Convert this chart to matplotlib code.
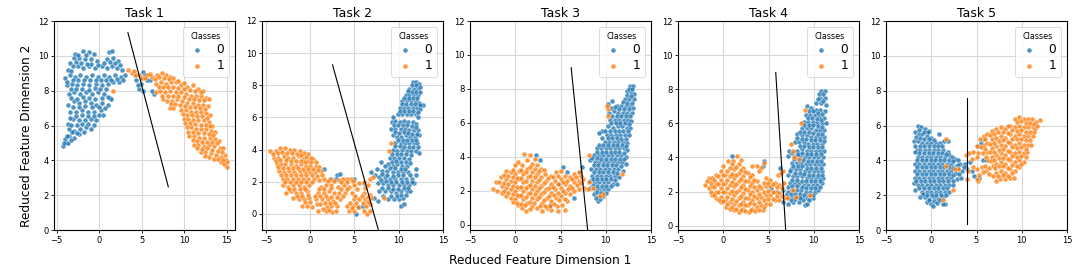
import matplotlib
matplotlib.use("Agg")
import matplotlib.pyplot as plt

# Points, (x, y) for each task and class
task1_class0 = [(-2.8,10.1),(-1.9,10.3),(-1.2,10.2),(-0.6,10.1),(1.2,10.2),(1.5,10.3),(-3.4,9.6),(-3,9.9),(-2.3,9.9),(-1.6,9.8),(-0.9,9.8),(-0.2,9.7),(0.9,9.8),(1.7,9.9),(2.2,9.7),
    (-3.7,9.2),(-3.1,9.4),(-2.5,9.4),(-1.9,9.3),(-1.2,9.4),(-0.5,9.3),(0.3,9.4),(0.9,9.3),(1.5,9.4),(2.1,9.3),(2.7,9.2),(-4,8.7),(-3.4,8.9),(-2.8,8.8),(-2.2,8.9),(-1.5,8.8),(-0.8,8.9),(-0.1,8.8),(0.6,8.9),(1.2,8.8),(1.9,8.9),(2.6,8.8),(3,8.9),(4.2,8.9),(5.2,9.1),(5.4,8.9),
    (-3.8,8.3),(-3.2,8.4),(-2.6,8.3),(-1.9,8.4),(-1.2,8.3),(-0.4,8.4),(0.3,8.3),(1,8.4),(1.7,8.5),(2.4,8.5),(4.4,8.6),(4.9,8.4),(6,8.6),(-3.5,7.8),(-2.9,7.9),(-2.2,7.8),(-1.5,7.9),(-0.8,7.8),(-0.1,7.9),(0.6,7.8),(1.3,7.6),(4.7,8.1),(5.2,8),(6.5,7.8),(6.2,8),
    (-3.6,7.2),(-3,7.4),(-2.4,7.3),(-1.7,7.4),(-1,7.3),(-0.3,7.2),(0.4,7.3),(1,7.2),(1.4,7.5),(-3.4,6.8),(-2.7,6.8),(-2,6.9),(-1.3,6.8),(-0.6,6.8),(0.2,6.9),(0.5,6.6),(-3.7,6.1),(-3.1,6.4),(-2.4,6.3),(-1.7,6.3),(-1,6.4),(-0.3,6.3),
    (-3.5,5.8),(-2.9,5.7),(-2.2,5.8),(-1.5,5.9),(-1,5.8),(-3.5,5.4),(-3,5.3),(-2.4,5.5),(-1.8,5.6),(-3.9,5),(-4.2,4.8),(-3.6,5),(-4,5.2),
    (-2.5,10.05),(-1.55,10.02),(-0.95,9.55),(-2.75,9.62),(-3.35,9.15),(-2.15,9.6),(-1.45,9.55),(-0.15,9.45),(0.55,9.6),(1.25,9.62),(1.85,9.6),(2.45,9.45),(-3.75,8.5),(-3.05,8.62),(-2.45,8.6),(-1.75,8.6),(-1.05,8.62),(-0.35,8.6),(0.25,8.62),(0.85,8.6),(1.45,8.62),(2.15,8.65),(2.85,8.6),
    (-3.35,8.12),(-2.7,8.1),(-1.95,8.12),(-1.15,8.05),(-0.5,8.15),(0.15,8.1),(0.85,8.12),(-3.25,7.6),(-2.55,7.55),(-1.85,7.62),(-1.2,7.6),(-0.45,7.55),(0.35,7.6),(1.05,7.65),(-3.1,7.05),(-2.35,7.05),(-1.6,7.1),(-0.85,7.05),(-0.05,7.05),(0.75,7),(-3.45,6.45),(-2.75,6.55),(-2,6.6),(-1.35,6.55),(-0.6,6.55),(-0.05,6.6),(-3.25,6.05),(-2.6,6.05),(-1.95,6.1),(-1.25,6.1),(-0.6,6.05),(-3.2,5.6),(-2.6,5.55),(-3.3,5.15),(-3.8,5.4),(-4.1,5),(4.55,8.35),(5.05,8.75),(5.7,8.6)]
task1_class1 = [(3.4,9.2),(3.9,9),(4.4,8.9),(5,8.7),(5.6,8.9),(6.2,8.8),(6.8,8.9),(7.4,9),(7.9,8.9),(8.4,8.8),(6.7,8.4),(7.3,8.5),(7.9,8.4),(8.5,8.5),(9,8.5),(9.6,8.3),(10.4,8.2),(11,8.3),(11.7,8.1),(12.2,8),(6.7,7.9),(7.2,8),(7.8,7.9),(8.4,8),(9,7.9),(9.6,7.9),(10.2,7.8),(10.8,7.7),(11.4,7.7),(12,7.7),(12.6,7.6),(12.9,7.5),
    (7.5,7.5),(8,7.4),(8.6,7.4),(9.2,7.5),(9.8,7.4),(10.4,7.3),(11,7.3),(11.6,7.2),(12.2,7.2),(12.8,7.1),(8.3,7),(8.7,7),(9.6,6.9),(10.2,6.9),(10.8,6.8),(11.4,6.8),(12,6.8),(12.6,6.7),(13,6.6),(10,6.4),(10.5,6.4),(11.1,6.3),(11.7,6.3),(12.3,6.3),(12.9,6.2),(13.3,6),(10.3,5.9),(10.8,5.9),(11.4,5.8),(12,5.8),(12.6,5.8),(13.2,5.7),(13.7,5.6),
    (10.6,5.4),(11.2,5.4),(11.8,5.3),(12.4,5.3),(13,5.3),(13.6,5.2),(14.1,5.1),(11.2,4.9),(11.7,4.9),(12.3,4.8),(12.9,4.9),(13.5,4.8),(14.2,4.7),(14.6,4.7),(12,4.5),(12.5,4.5),(13.2,4.4),(13.8,4.3),(14.4,4.2),(14.8,4.3),(13.5,4.1),(14.3,3.9),(14.9,4),(15.1,3.9),(15,3.6),(14.7,3.8),(1.6,8),
    (4.15,9.12),(4.75,8.92),(5.35,8.72),(5.95,8.98),(6.55,8.68),(7.1,8.78),(7.65,8.72),(8.2,8.65),(8.75,8.72),(9.3,8.58),(9.95,8.42),(7,8.2),(7.55,8.2),(8.15,8.22),(8.75,8.2),(9.3,8.15),(9.95,8.1),(10.65,8.02),(11.25,8),(11.95,7.92),(7.45,7.72),(8.1,7.68),(8.7,7.7),(9.35,7.7),(9.95,7.65),(10.55,7.55),(11.15,7.52),(11.75,7.48),(12.35,7.45),(8.45,7.22),(8.95,7.25),(9.5,7.2),(10.1,7.12),(10.7,7.08),(11.3,7.05),(11.9,7),(12.5,6.95),
    (9.85,6.65),(10.35,6.62),(10.95,6.58),(11.55,6.55),(12.15,6.55),(12.75,6.45),(10.15,6.15),(10.75,6.12),(11.35,6.08),(11.95,6.05),(12.55,6.02),(13.1,5.95),(10.5,5.65),(11.1,5.62),(11.65,5.58),(12.3,5.55),(12.9,5.52),(13.45,5.45),(11,5.15),(11.5,5.12),(12.1,5.08),(12.65,5.08),(13.25,5.05),(13.85,5),(11.55,4.68),(12.15,4.65),(12.7,4.68),(13.3,4.62),(13.95,4.55),(14.5,4.45),(12.9,4.2),(14,4.1),(14.6,4.02),(12.5,4.25)]

task2_class0 = [(11.6,8.2),(12,8.2),(12.3,8.1),(11.2,7.8),(11.7,7.8),(12.2,7.8),(12.4,7.9),(10.8,7.4),(11.2,7.4),(11.7,7.4),(12.2,7.4),(10.4,7),(10.9,7.1),(11.4,7),(11.9,7),(12.3,6.9),(12.7,6.8),(10.1,6.6),(10.6,6.6),(11.1,6.6),(11.6,6.6),(12.1,6.6),(12.4,6.5),(9.9,6.2),(10.4,6.2),(10.9,6.2),(11.4,6.2),(11.9,6.2),(12.2,6),(9.2,5.7),(9.6,5.8),(10.1,5.7),(10.6,5.8),(11.1,5.7),(11.6,5.7),(12,5.6),
    (9.1,5.3),(9.6,5.3),(10.2,5.3),(10.7,5.3),(11.2,5.2),(11.7,5.2),(12.2,5.2),(9.3,4.9),(9.8,4.8),(10.3,4.8),(10.8,4.9),(11.3,4.8),(11.8,4.8),(12.3,4.9),(9.6,4.4),(10.2,4.4),(10.7,4.4),(11.2,4.4),(11.7,4.4),(12.1,4.4),(9.3,4),(9.8,3.9),(10.4,4),(10.9,3.9),(11.4,3.9),(11.9,3.9),(12.3,3.8),(9,3.5),(9.5,3.5),(10,3.5),(10.6,3.5),(11.2,3.4),(8.8,3.1),(9.3,3),(9.8,3.1),(10.4,3),(10.9,3),
    (8,3.2),(7.5,2.8),(8.1,2.7),(8.7,2.7),(9.3,2.6),(9.9,2.6),(10.5,2.6),(11,2.6),(12,2.8),(11.9,2.4),(6.9,2.6),(7.3,2.4),(7.8,2.3),(8.4,2.3),(9,2.2),(9.6,2.2),(10.2,2.2),(10.8,2.2),(11.5,2.2),(7.6,1.9),(8.2,1.9),(8.8,1.8),(9.4,1.8),(10,1.8),(10.6,1.8),(11.2,1.8),(11.7,1.9),(7.8,1.4),(8.5,1.4),(9.1,1.4),(9.7,1.3),(10.3,1.4),(10.9,1.4),(11.3,1.4),
    (7.2,1),(7.7,0.8),(8.8,0.9),(9.5,0.9),(10,0.9),(10.5,1),(10.2,0.5),(10.6,0.6),(5.2,0),(5.5,0.4),(6,0.5),(3,2.4),(2.9,2.2),(3.4,2.5),(2.3,2.2),(1.5,2.8),(5,2.2),(6.1,1.9),
    (11.45,8),(11.95,8),(11,7.62),(11.45,7.58),(11.95,7.6),(12.35,7.6),(10.65,7.22),(11.15,7.2),(11.65,7.2),(12.1,7.18),(10.35,6.82),(10.85,6.85),(11.35,6.82),(11.85,6.82),(12.4,6.75),(10.15,6.4),(10.65,6.4),(11.2,6.42),(11.65,6.4),(12.15,6.35),(9.35,6.02)
    ,(9.45,5.52),(9.9,5.52),(10.45,5.55),(10.95,5.5),(11.45,5.48),(11.95,5.42),(9.55,5.08),(10.05,5.05),(10.55,5.08),(11.05,5.02),(11.55,5),(12.05,5),(9.9,4.62),(10.45,4.62),(10.95,4.62),(11.45,4.6),(11.95,4.58),(9.55,4.2),(10.1,4.2),(10.65,4.18),(11.15,4.15),(11.65,4.15),(12.2,4.15),(9.25,3.72),(9.75,3.72),(10.3,3.72),(10.85,3.7),(11.4,3.68),(9.2,3.25),(9.7,3.3),(10.25,3.25),(10.8,3.22),(11.25,3.15),
    (8.45,2.95),(9.05,2.85),(9.6,2.85),(10.2,2.82),(10.75,2.8),(8.1,2.48),(8.7,2.45),(9.3,2.38),(9.9,2.4),(10.5,2.4),(11.25,2.42),(8,2.08),(8.55,2.05),(9.15,2),(9.7,2),(10.35,2),(10.95,2),(11.45,1.98),(8.15,1.62),(8.8,1.6),(9.35,1.58),(9.95,1.58),(10.55,1.6),(11.1,1.6),(9.15,1.12),(9.75,1.1),(10.25,1.15),(10.8,1.15),(8.2,1.1)]
task2_class1 = [(-4.5,3.9),(-3.9,3.9),(-3.4,4.1),(-2.9,4.1),(-2.3,4),(-1.8,4),(-1.2,3.9),(-0.7,3.8),(-0.2,3.7),(-4.1,3.5),(-3.6,3.5),(-3,3.6),(-2.5,3.5),(-1.9,3.5),(-1.3,3.6),(-0.8,3.4),(-0.2,3.3),(0.3,3.4),(-3.8,3.1),(-3.3,3.1),(-2.8,3.1),(-2.2,3.1),(-1.6,3),(-1,3.1),(-0.5,3),(0,3),(0.6,3),(1,2.9),
    (-3.5,2.7),(-3,2.6),(-2.4,2.7),(-1.8,2.6),(-1.2,2.7),(-0.6,2.6),(0,2.6),(0.5,2.6),(1.2,2.7),(-3.1,2.2),(-2.6,2.2),(-2,2.2),(-1.4,2.2),(-0.8,2.2),(-0.2,2.2),(0.4,2.2),(1,2.1),(1.6,2.2),(2.2,2.2),(3.2,2.1),(4.1,2.2),(4.6,2.2),(3.7,2.2),
    (-3.1,1.8),(-2.5,1.7),(-1.9,1.8),(-1.3,1.8),(-0.7,1.7),(-0.1,1.8),(1.2,1.7),(1.8,1.8),(2.4,1.8),(3.1,1.7),(3.8,1.8),(4.4,1.7),(5,1.8),(5.5,1.9),(6.1,2),(6.7,2.2),(6.5,1.8),(-2.7,1.3),(-2.2,1.4),(-1.6,1.3),(-1,1.3),(-0.4,1.4),(0.9,1.3),(1.5,1.3),(2.1,1.4),(2.7,1.3),(3.3,1.3),(3.9,1.3),(4.7,1.3),(6.1,1.3),(6.8,1.2),
    (-1.9,1),(-1.3,0.9),(-0.7,0.9),(-0.1,1),(0.7,0.9),(1.3,0.9),(2,0.9),(2.6,0.8),(3.4,0.9),(4.9,0.9),(5.5,0.9),(6.2,0.9),(6.9,1),(-0.9,0.5),(-0.4,0.5),(0.2,0.4),(0.8,0.6),(1.9,0.4),(2.4,0.5),(3,0.5),(4.2,0.5),(4.8,0.5),(5.4,0.4),(6.3,0.5),(6.8,0.6),(0.9,0.2),(1.8,0.2),(2.5,0.1),(2.9,0.2),(4.4,0.2),(4.9,0.2),(6.4,0),(6.8,0.2),(9.1,4.4),(8.9,3.9),(8.3,1),(7.1,2.3),
    (-4.2,3.72),(-3.65,3.82),(-3.15,3.85),(-2.6,3.78),(-2.05,3.78),(-1.55,3.75),(-1,3.68),(-0.45,3.55),(0.05,3.5),(-3.9,3.3),(-3.4,3.35),(-2.75,3.35),(-2.2,3.32),(-1.65,3.28),(-1.1,3.3),(-0.55,3.22),(0.05,3.22),(0.6,3.25),(-3.65,2.9),(-3.1,2.88),(-2.55,2.88),(-1.95,2.85),(-1.35,2.88),(-0.8,2.82),(-0.25,2.8),(0.3,2.8),(0.85,2.75),
    (-3.25,2.45),(-2.7,2.42),(-2.15,2.42),(-1.6,2.4),(-1.05,2.45),(-0.45,2.42),(0.15,2.4),(0.75,2.38),(1.35,2.42),(-2.85,2),(-2.25,1.98),(-1.65,2),(-1.05,1.98),(-0.45,1.98),(0.15,2),(2,2.02),(2.7,2.05),(3.45,1.98),(4.2,2),(4.85,2.02),(-2.4,1.55),(-1.8,1.58),(-1.15,1.55),(-0.55,1.52),(0.95,1.52),(1.6,1.55),(2.4,1.6),(3.5,1.55),(4.2,1.52),(5.3,1.55),(6.2,1.6),
    (-1.55,1.12),(-0.95,1.12),(-0.25,1.18),(0.5,1.12),(1.1,1.12),(1.8,1.12),(2.4,1.08),(3.05,1.05),(3.65,1.12),(5.1,1.12),(5.85,1.1),(6.5,1.08),(-0.6,0.72),(0,0.72),(1.05,0.62),(1.65,0.65),(2.2,0.65),(2.8,0.68),(4.5,0.7),(5.15,0.65),(6,0.7),(6.55,0.72),(1.45,0.3),(2.15,0.22),(4.7,0.38),(6.1,0.2)]

task3_class0 = [(12.7,8.2),(13,8.2),(12.4,7.9),(12.8,7.8),(13.1,7.7),(12.1,7.4),(12.6,7.4),(13.1,7.4),(11.7,7),(12.2,7),(12.7,7),(13,6.9),(10.3,7.1),(10.7,7.3),(11.2,7),(10.4,6.6),(10.9,6.7),(11.4,6.6),(11.9,6.6),(12.4,6.6),(12.9,6.6),(10.5,6.2),(11,6.2),(11.5,6.2),(12,6.2),(12.5,6.2),(12.8,6.1),(10.3,5.8),(10.8,5.7),(11.3,5.8),(11.8,5.8),(12.3,5.7),(12.7,5.7),
    (9.6,5.5),(9.2,5.4),(10.1,5.3),(10.6,5.3),(11.1,5.3),(11.6,5.3),(12.1,5.3),(12.6,5.3),(9.9,4.9),(10.4,4.9),(10.9,4.9),(11.4,4.9),(11.9,4.9),(12.4,4.8),(9,4.5),(9.5,4.5),(10,4.5),(10.5,4.5),(11,4.5),(11.5,4.5),(12,4.5),(12.4,4.4),(8.7,4.1),(9.2,4.1),(9.7,4.1),(10.2,4.1),(10.7,4.1),(11.2,4.1),(11.7,4.1),(12.2,4),
    (8.3,3.8),(8.8,3.7),(9.3,3.7),(9.8,3.7),(10.3,3.7),(10.8,3.7),(11.3,3.7),(11.8,3.7),(12.2,3.6),(8.4,3.3),(8.9,3.3),(9.4,3.3),(9.9,3.3),(10.4,3.3),(10.9,3.3),(11.4,3.3),(11.9,3.2),(8.5,2.9),(9,2.9),(9.5,2.9),(10,2.9),(10.5,2.9),(11,2.9),(11.5,2.8),(8.3,2.6),(8.8,2.5),(9.3,2.5),(9.8,2.5),(10.3,2.5),(10.8,2.4),(11.2,2.4),
    (8.3,2.2),(8.8,2.1),(9.3,2.1),(9.8,2.1),(10.3,2.1),(8.7,1.8),(9.2,1.7),(9.7,1.7),(9.1,1.4),(9.4,1.5),(2.3,4.1),(2.7,3.8),(5.3,3.4),(5.7,3.1),(4.8,2.4),(7.4,3.4),(7.1,3.1),(6.5,1.6),(3.8,1.2),
    (12.55,8.02),(12.95,8),(12.3,7.62),(12.8,7.58),(11.9,7.22),(12.4,7.2),(12.9,7.18),(10.55,6.9),(11,6.92),(11.5,6.85),(12,6.82),(12.55,6.82),(10.7,6.42),(11.2,6.42),(11.7,6.4),(12.2,6.4),(12.7,6.38),(10.6,6),(11.1,5.98),(11.6,6),(12.1,5.98),(12.6,5.92),(9.9,5.55),(10.45,5.55),(11,5.52),(11.45,5.55),(11.95,5.52),(12.45,5.5),(9.6,5.1),(10.2,5.12),(10.7,5.1),(11.2,5.12),(11.7,5.08),(12.25,5.05),
    (9.3,4.72),(9.75,4.7),(10.25,4.7),(10.75,4.72),(11.25,4.7),(11.75,4.7),(12.2,4.65),(9.05,4.3),(9.55,4.3),(10.05,4.3),(10.55,4.3),(11,4.28),(11.5,4.3),(12,4.25),(8.5,3.95),(9,3.92),(9.5,3.9),(10.05,3.9),(10.55,3.9),(11.05,3.9),(11.55,3.88),(12,3.85),(8.65,3.5),(9.15,3.5),(9.65,3.5),(10.15,3.5),(10.65,3.5),(11.15,3.5),(11.65,3.48),(8.75,3.1),(9.25,3.1),(9.75,3.1),(10.25,3.1),(10.75,3.1),(11.25,3.05),
    (8.55,2.72),(9.05,2.7),(9.55,2.7),(10.05,2.7),(10.55,2.7),(11.05,2.65),(8.55,2.32),(9.05,2.3),(9.55,2.3),(10.05,2.3),(10.6,2.28),(9,1.92),(9.5,1.92),(10,1.88),(8.95,1.6),(9.45,1.85)]
task3_class1 = [(-2.5,2.1),(-2.1,2.5),(-2,2),(-1.6,2.8),(-1.5,2.3),(-1.5,1.9),(-1,3.2),(-1,2.7),(-1,2.2),(-1,1.7),(-0.5,3.1),(-0.5,2.6),(-0.5,2.1),(-0.5,1.6),(0,3.5),(0,3),(0,2.5),(0,2),(0,1.5),(0.3,3.7),(0.4,3.2),(0.4,2.7),(0.4,2.2),(0.4,1.7),(0.3,1.2),(0.8,3.5),(0.9,3),(0.9,2.5),(0.9,2),(0.9,1.5),(0.8,1),(1,4.2),(1.3,3.8),(1.3,3.3),(1.4,2.8),(1.4,2.3),(1.4,1.8),(1.3,1.3),(1.2,0.8),
    (1.6,4.1),(1.9,3.6),(1.9,3.1),(1.9,2.6),(1.9,2.1),(1.9,1.6),(1.8,1.1),(2.4,3.5),(2.4,3),(2.4,2.5),(2.4,2),(2.4,1.5),(2.4,1),(2.9,3.3),(2.9,2.8),(2.9,2.3),(2.9,1.8),(3,1.3),(3,0.8),(3.3,3),(3.4,2.6),(3.4,2.1),(3.5,1.6),(3.5,1),(3.9,2.9),(3.9,2.4),(3.9,1.9),(4,1.4),(4,0.9),(4.5,3.1),(4.4,2.6),(4.4,2.1),(4.5,1.6),(4.6,1.1),(4.7,0.8),
    (5,3.2),(5,2.7),(5,2.2),(5,1.7),(5.2,1.2),(5.5,0.9),(5.5,2.9),(5.5,2.4),(5.5,1.9),(5.7,1.4),(6,2.8),(6,2.3),(6,1.8),(6.5,3),(6.5,2.5),(6.5,2),(7,3.1),(7,2.6),(7,2.1),(7.5,2.7),(7.6,2.2),(8.1,2.5),(8,2.1),(8.6,2.2),(9.7,1.8),(9.4,1.7),(8.2,4.1),(10.3,6.8),(10.1,7),(10.3,6.4),(11.8,3),
    (-1.75,2.55),(-1.25,2.95),(-1.25,2.45),(-1.25,2),(-0.75,2.9),(-0.75,2.4),(-0.75,1.9),(-0.25,3.25),(-0.25,2.8),(-0.25,2.3),(-0.25,1.8),(-0.2,1.35),(0.2,2.75),(0.2,2.25),(0.2,1.75),(0.15,1.3),(0.65,3.25),(0.65,2.75),(0.65,2.25),(0.65,1.75),(0.6,1.25),(1.15,3.1),(1.15,2.6),(1.15,2.15),(1.15,1.65),(1.05,1.15),(1.65,3.4),(1.65,2.85),(1.65,2.35),(1.65,1.85),(1.6,1.35),(1.6,0.95),
    (2.15,3.85),(2.15,3.3),(2.15,2.8),(2.15,2.3),(2.15,1.8),(2.1,1.3),(2.65,3.15),(2.65,2.65),(2.65,2.15),(2.65,1.65),(2.7,1.1),(3.15,3.25),(3.15,2.45),(3.2,1.95),(3.2,1.45),(3.3,1.1),(3.65,2.75),(3.7,2.2),(3.75,1.7),(3.8,1.1),(4.2,2.8),(4.15,2.25),(4.25,1.75),(4.3,1.25),(4.75,2.85),(4.7,2.4),(4.75,1.9),(4.85,1.45),(5.25,2.5),(5.25,2),(5.45,1.55),(5.75,2.6),(5.8,2.1),(6.25,2.7),(6.3,2.2),(6.75,2.8),(6.8,2.35),(7.25,2.9),(7.3,2.45)]

task4_class0 = [(10.8,7.9),(11.2,7.9),(10.7,7.5),(11.2,7.5),(10.3,7.2),(10.8,7.2),(11.3,7.1),(9.3,7),(9.7,6.9),(10.2,6.8),(10.7,6.8),(11.2,6.7),(9.1,6.5),(9.6,6.5),(10.1,6.5),(10.6,6.4),(11.1,6.3),(8.9,6.1),(9.4,6.1),(9.9,6.1),(10.4,6),(10.9,6),(11.3,6),(8.7,5.7),(9.2,5.7),(9.7,5.7),(10.2,5.6),(10.7,5.6),(11.1,5.6),
    (8.2,5.4),(8.7,5.3),(9.2,5.3),(9.7,5.2),(10.2,5.2),(10.7,5.2),(11.1,5.2),(7.9,4.9),(8.4,4.9),(8.9,4.9),(9.4,4.8),(9.9,4.8),(10.4,4.8),(10.9,4.8),(7.3,4.4),(8.2,4.4),(8.7,4.5),(9.2,4.4),(9.7,4.4),(10.2,4.4),(10.7,4.4),(11.1,4.4),(7.2,4.1),(8,4.1),(8.5,4.1),(9,4),(9.5,4),(10,4),(10.5,4),(11,4),
    (7.6,3.7),(8.1,3.7),(8.6,3.7),(9.1,3.6),(9.6,3.6),(10.1,3.6),(10.6,3.6),(11,3.6),(7.5,3.3),(8,3.3),(8.5,3.3),(9,3.2),(9.5,3.2),(10,3.2),(10.5,3.2),(10.9,3.2),(6.3,3.4),(7.2,3),(7.7,2.9),(8.2,2.9),(8.7,2.9),(9.2,2.8),(9.7,2.8),(10.2,2.8),(10.7,2.8),(11,2.8),(7.4,2.5),(7.9,2.5),(8.4,2.5),(8.9,2.4),(9.4,2.4),(9.9,2.4),(10.4,2.4),(10.9,2.5),
    (6.6,2.1),(7.1,2),(7.6,2.1),(8.1,2.1),(8.6,2.1),(9.1,2),(9.6,2),(10.1,2),(10.5,2.1),(7.2,1.7),(7.7,1.7),(8.2,1.7),(8.7,1.7),(9.2,1.6),(9.9,1.6),(7.2,1.3),(7.7,1.4),(8.4,1.4),(8.8,1.5),(9,1.2),(9.2,1.3),(5.9,2),(6.6,1.4),(1,4.1),(4.5,3.8),(4.4,3.5),(5.3,2.2),
    (10.55,7.7),(11,7.7),(10.5,7.4),(11,7.3),(9.5,6.72),(9.95,6.7),(10.45,6.62),(10.95,6.55),(9.35,6.3),(9.85,6.3),(10.35,6.25),(10.85,6.22),(8.95,5.9),(9.45,5.92),(9.95,5.88),(10.45,5.82),(10.95,5.8),(8.45,5.52),(8.95,5.52),(9.45,5.48),(9.95,5.42),(10.45,5.4),(10.95,5.4),(8.15,5.12),(8.65,5.1),(9.15,5.08),(9.65,5),(10.15,5),(10.65,5),(11.1,4.98),(8.45,4.68),(8.95,4.65),(9.45,4.6),(9.95,4.6),(10.45,4.6),(10.95,4.6),
    (7.65,4.25),(8.25,4.22),(8.75,4.25),(9.25,4.2),(9.75,4.2),(10.25,4.2),(10.75,4.2),(7.85,3.9),(8.35,3.88),(8.85,3.85),(9.35,3.8),(9.85,3.8),(10.35,3.8),(10.85,3.8),(7.75,3.5),(8.25,3.5),(8.75,3.48),(9.25,3.4),(9.75,3.4),(10.25,3.4),(10.75,3.4),(7.35,3.2),(7.95,3.1),(8.45,3.1),(8.95,3.05),(9.45,3),(9.95,3),(10.45,3),(10.9,3),(7.65,2.7),(8.15,2.7),(8.65,2.65),(9.15,2.6),(9.65,2.6),(10.15,2.6),(10.65,2.6),
    (7.15,2.28),(7.65,2.3),(8.15,2.3),(8.65,2.25),(9.15,2.2),(9.65,2.2),(10.15,2.2),(10.7,2.25),(6.9,1.8),(7.45,1.88),(7.95,1.88),(8.45,1.88),(8.95,1.82),(9.45,1.8),(9.95,1.82),(7.45,1.5),(7.95,1.55),(8.45,1.6),(9.5,1.52)]
task4_class1 = [(-2,2.4),(-1.6,2.8),(-1.6,2.2),(-1.2,2.8),(-1.2,2.3),(-1.2,1.8),(-0.8,3),(-0.8,2.5),(-0.8,2),(-0.8,1.6),(-0.3,3.2),(-0.3,2.7),(-0.3,2.2),(-0.3,1.7),(-0.2,1.4),(0,3.5),(0.2,3),(0.2,2.5),(0.2,2),(0.2,1.5),(0.3,1.1),(0.5,3.8),(0.7,3.4),(0.7,2.9),(0.7,2.4),(0.7,1.9),(0.7,1.4),(0.7,1),(1.1,3.8),(1.2,3.3),(1.2,2.8),(1.2,2.3),(1.2,1.8),(1.2,1.3),(1.2,0.9),
    (1.5,4.1),(1.7,3.6),(1.7,3.1),(1.7,2.6),(1.7,2.1),(1.7,1.6),(1.7,1.2),(1.7,0.8),(2.2,3.4),(2.2,2.9),(2.2,2.4),(2.2,1.9),(2.2,1.4),(2.2,1),(2.7,3.1),(2.7,2.6),(2.7,2.1),(2.7,1.6),(2.7,1.2),(2.8,0.8),(3.2,3.5),(3.2,3),(3.2,2.5),(3.2,2),(3.2,1.5),(3.2,1),(3.7,3.5),(3.7,2.6),(3.7,2.1),(3.7,1.6),(3.7,1.1),(4.2,3.4),(4.2,2.2),(4.2,1.7),(4.2,1.2),(4.5,3.7),(4.4,0.9),
    (4.7,2.8),(4.7,2.3),(4.7,1.8),(4.7,1.3),(5.2,2.7),(5.2,2.3),(5.2,1.8),(5.2,1.3),(5.7,2.5),(5.7,2),(5.7,1.5),(6,3),(6.2,2.4),(6.2,1.9),(6.2,1.5),(6.4,3.1),(6.6,3.2),(6.7,2.5),(6.7,1.7),(7,1.6),(8,1.7),(7.7,2.1),(7.5,4.8),(7.7,4.4),(7.8,4),(9,6.8),(8.6,6),(8.4,3.9),(9.6,1.8),
    (-1.85,2.65),(-1.4,2.5),(-1.4,2),(-1,2.7),(-1,2.25),(-1,1.8),(-0.55,2.9),(-0.55,2.45),(-0.55,1.95),(-0.5,1.5),(-0.05,2.95),(-0.05,2.45),(-0.05,1.95),(-0.05,1.45),(0.45,3.2),(0.45,2.7),(0.45,2.2),(0.45,1.7),(0.45,1.25),(0.95,3.6),(0.95,3.05),(0.95,2.55),(0.95,2.05),(0.95,1.55),(0.95,1.1),(1.45,3.45),(1.45,2.95),(1.45,2.45),(1.45,1.95),(1.45,1.45),(1.45,1),
    (1.95,3.85),(1.95,3.25),(1.95,2.75),(1.95,2.25),(1.95,1.75),(1.95,1.3),(1.95,0.9),(2.45,3.15),(2.45,2.6),(2.45,2.15),(2.45,1.65),(2.45,1.2),(2.45,0.85),(2.95,2.85),(2.95,2.35),(2.95,1.85),(2.95,1.35),(3.05,0.95),(3.45,2.7),(3.45,2.25),(3.45,1.75),(3.45,1.25),(3.5,0.85),(3.95,3.2),(3.95,2.35),(3.95,1.85),(3.95,1.4),(3.95,0.95),(4.45,2.5),(4.45,2),(4.45,1.5),(4.5,1.1),(4.95,2.5),(4.95,2.05),(4.95,1.55),(5.45,2.45),(5.45,2),(5.45,1.55),(5.95,2.25),(5.95,1.75),(6.45,2.2),(6.45,1.75)]

task5_class0 = [(-1.5,6),(-1.1,5.9),(-0.7,5.8),(-0.2,5.7),(-1.8,5.6),(-1.4,5.5),(-1,5.5),(-0.5,5.4),(0,5.3),(0.9,5.5),(-1.9,5.1),(-1.5,5.1),(-1,5),(-0.5,5),(0,5),(0.5,5),(1,5),(1.4,5.1),(1.8,5.1),(-1.6,4.6),(-1.2,4.6),(-0.7,4.6),(-0.2,4.6),(0.3,4.6),(0.8,4.6),(1.3,4.6),(1.8,4.5),(-1.5,4.2),(-1,4.2),(-0.5,4.2),(0,4.2),(0.5,4.2),(1,4.2),(1.5,4.2),(2,4.3),(2.6,4.1),(3,4),
    (-1.8,3.8),(-1.3,3.8),(-0.8,3.8),(-0.3,3.8),(0.2,3.8),(0.7,3.8),(1.2,3.8),(1.7,3.8),(2.2,3.8),(2.7,3.7),(3.2,3.8),(3.7,3.8),(4.3,3.9),(5.7,4),(-1.8,3.4),(-1.3,3.4),(-0.8,3.4),(-0.3,3.4),(0.2,3.4),(0.7,3.4),(1.2,3.4),(1.7,3.4),(2.2,3.4),(2.7,3.3),(3.4,3.4),(3.9,3.5),(4.5,3.4),(-1.8,3),(-1.3,3),(-0.8,3),(-0.3,3),(0.2,3),(0.7,3),(1.2,3),(1.7,3),(2.2,3),(2.8,2.9),(3.3,3),(4.7,3.1),(5.3,3),
    (-1.9,2.7),(-1.5,2.6),(-1,2.6),(-0.5,2.6),(0,2.6),(0.5,2.6),(1,2.6),(1.5,2.6),(2,2.6),(2.4,2.6),(-1.8,2.3),(-1,2.2),(-0.5,2.2),(0,2.2),(0.5,2.2),(1,2.2),(1.5,2.2),(2,2.2),(-1.2,1.9),(-0.7,1.9),(-0.2,1.8),(0.3,1.9),(0.8,1.8),(1.3,1.9),(-0.5,1.6),(0,1.5),(0.2,1.4),(1,1.7),(1.5,1.5),(5.5,5),(5.2,4.8),(5.7,5.2),(6,4),
    (-1.3,5.75),(-0.85,5.65),(-0.4,5.6),(-1.65,5.35),(-1.2,5.28),(-0.75,5.25),(-0.25,5.2),(0.25,5.18),(-1.75,4.85),(-1.25,4.82),(-0.75,4.82),(-0.25,4.82),(0.25,4.82),(0.75,4.82),(1.2,4.85),(-1.75,4.45),(-1.3,4.42),(-0.8,4.4),(-0.3,4.4),(0.2,4.4),(0.7,4.4),(1.2,4.4),(1.65,4.38),(2.3,4.2),(-1.6,4),(-1.05,4),(-0.55,4),(-0.05,4),(0.45,4),(0.95,4),(1.45,4),(1.95,4.02),(2.45,3.95),(2.95,3.75),
    (-1.55,3.6),(-1.05,3.6),(-0.55,3.6),(-0.05,3.6),(0.45,3.6),(0.95,3.6),(1.45,3.6),(1.95,3.6),(2.45,3.55),(3,3.55),(3.6,3.6),(-1.55,3.2),(-1.05,3.2),(-0.55,3.2),(-0.05,3.2),(0.45,3.2),(0.95,3.2),(1.45,3.2),(1.95,3.2),(2.45,3.15),(3.05,3.2),(-1.65,2.82),(-1.15,2.8),(-0.65,2.8),(-0.15,2.8),(0.35,2.8),(0.85,2.8),(1.35,2.8),(1.85,2.8),(2.35,2.82),(-1.3,2.4),(-0.75,2.4),(-0.25,2.4),(0.25,2.4),(0.75,2.4),(1.25,2.4),(1.75,2.4),
    (-0.95,2.05),(-0.45,2),(0.05,2),(0.55,2),(1.05,2),(1.6,2),(-0.3,1.7),(0.3,1.65),(0.6,1.55),(1.3,1.5)]
task5_class1 = [(3.8,4.3),(4.2,4.4),(4.6,4.5),(5,4.8),(5.2,4.4),(5.4,5.2),(5.8,5.4),(5.8,4.9),(5.7,4.4),(6.2,5.5),(6.2,5),(6.2,4.5),(6.3,4),(6.7,5.7),(6.7,5.2),(6.7,4.7),(6.7,4.2),(6.8,3.7),(7.1,5.8),(7.2,5.3),(7.2,4.8),(7.2,4.3),(7.2,3.8),(7.2,3.3),(7.7,5.9),(7.7,5.4),(7.7,4.9),(7.7,4.4),(7.7,3.9),(7.7,3.4),(7.6,2.9),
    (8.2,5.8),(8.2,5.3),(8.2,4.8),(8.2,4.3),(8.2,3.8),(8.2,3.3),(8.2,2.9),(8.7,6),(8.7,5.5),(8.7,5),(8.7,4.5),(8.7,4),(8.7,3.5),(8.7,3),(9.2,6.4),(9.2,5.9),(9.2,5.4),(9.2,4.9),(9.2,4.4),(9.2,3.9),(9.2,3.4),(9.1,3),(9.7,6.5),(9.7,6),(9.7,5.5),(9.7,5),(9.7,4.5),(9.7,4),(9.7,3.6),(10.2,6.4),(10.2,5.9),(10.2,5.4),(10.2,4.9),(10.2,4.4),(10.2,3.9),(10.7,6.4),(10.7,5.9),(10.7,5.4),(10.7,4.9),(10.6,4.5),
    (11.1,6.4),(11.2,5.9),(11.2,5.4),(11,4.9),(11.6,6.2),(11.5,5.8),(12,6.3),(4.1,3.4),(4.6,3.6),(5.1,3.5),(5.6,3.6),(6,3.4),(6.4,3.2),(6.8,3.1),(7.1,2.8),(5.2,2.8),(5,2.9),(3.9,2.9),(2.4,2.3),(1.3,1.7),(1.6,5.2),(1.6,3.7),(3,3.5),(2.6,3.5),
    (4.5,4.1),(5,4.2),(5.45,4.75),(5.95,5.2),(5.95,4.65),(6,4.2),(6.45,5.45),(6.45,4.95),(6.45,4.45),(6.55,3.95),(6.9,5.5),(6.95,5),(6.95,4.5),(6.95,4),(7,3.55),(7.4,5.6),(7.45,5.1),(7.45,4.6),(7.45,4.15),(7.45,3.65),(7.4,3.1),(7.95,5.65),(7.95,5.15),(7.95,4.65),(7.95,4.15),(7.95,3.65),(7.95,3.15),(8.45,5.95),(8.45,5.55),(8.45,5.05),(8.45,4.55),(8.45,4.05),(8.45,3.55),(8.45,3.1),
    (8.95,5.75),(8.95,5.25),(8.95,4.75),(8.95,4.25),(8.95,3.75),(8.95,3.25),(9.45,6.2),(9.45,5.7),(9.45,5.2),(9.45,4.7),(9.45,4.2),(9.45,3.65),(9.95,6.25),(9.95,5.75),(9.95,5.25),(9.95,4.75),(9.95,4.25),(9.95,3.8),(10.45,6.15),(10.45,5.65),(10.45,5.15),(10.45,4.65),(10.45,4.2),(10.95,6.15),(10.95,5.65),(10.95,5.15),(11.35,6.1),(11.3,5.65),(11.7,6),(5.7,3.35),(5.25,3.15),(5.9,3.7),(6.35,3.55)]

# Separating line of each task
line_x = [[3.4, 8.15], [2.52, 7.7], [6.18, 8.0], [5.8, 6.9], [3.97, 3.97]]
line_y = [[11.33, 2.48], [9.27, -1], [9.25, -0.3], [8.98, -0.25], [7.56, 0.36]]

tasks = ["Task 1", "Task 2", "Task 3", "Task 4", "Task 5"]
class0 = [task1_class0, task2_class0, task3_class0, task4_class0, task5_class0]
class1 = [task1_class1, task2_class1, task3_class1, task4_class1, task5_class1]
xlims = [(-5.3, 16), (-5.45, 15), (-5, 15), (-5, 15), (-5, 15)]
ylims = [(0, 12), (-1, 12), (-0.3, 12), (-0.25, 12), (0, 12)]
lefts = [54, 262, 470, 678, 886]

fig = plt.figure(figsize=(10.8, 2.7), dpi=100)

for i in range(5):
    ax = fig.add_axes([lefts[i] / 1080, 40 / 270, 181 / 1080, 209 / 270])
    for pts, color, name in [(class0[i], "tab:blue", "0"), (class1[i], "tab:orange", "1")]:
        ax.scatter([p[0] for p in pts], [p[1] for p in pts], s=13, color=color, alpha=0.8,
                   edgecolors="white", linewidths=0.35, label=name, zorder=2)
    ax.plot(line_x[i], line_y[i], color="black", linewidth=0.8, zorder=3)
    ax.set_xlim(xlims[i])
    ax.set_ylim(ylims[i])
    ax.set_xticks([-5, 0, 5, 10, 15])
    ax.set_yticks([0, 2, 4, 6, 8, 10, 12])
    ax.tick_params(labelsize=6, length=2, width=0.6, pad=2)
    ax.grid(True, color="#d8d8d8", linewidth=0.8, zorder=0)
    ax.set_axisbelow(True)
    ax.set_title(tasks[i], fontsize=9, pad=3)
    leg = ax.legend(title="Classes", loc="upper right", fontsize=8.7, title_fontsize=5.8,
                    markerscale=1.0, borderpad=0.4, labelspacing=0.2, handletextpad=0.8, handlelength=1.6)
    leg.get_frame().set_linewidth(0.6)

fig.text(27 / 1080, 134 / 270, "Reduced Feature Dimension 2", rotation=90, ha="center", va="center", fontsize=8.7)
fig.text(540 / 1080, 10 / 270, "Reduced Feature Dimension 1", ha="center", va="center", fontsize=8.7)

plt.savefig("out.png", dpi=100)
